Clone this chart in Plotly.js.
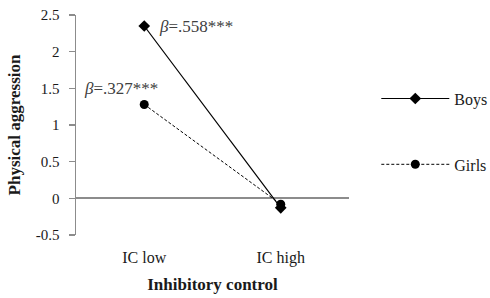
<!DOCTYPE html>
<html>
<head>
<meta charset="utf-8">
<script src="https://cdn.plot.ly/plotly-3.0.1.min.js"></script>
<style>html,body{margin:0;padding:0;background:#fff;}#chart{width:490px;height:298px;}</style>
</head>
<body>
<div id="chart"></div>
<script>
const categories = ["IC low", "IC high"];
const boys = [2.35, -0.13];
const girls = [1.28, -0.08];
const seriesNames = ["Boys", "Girls"];
const annoTexts = ["<i>β</i>=.558***", "<i>β</i>=.327***"];
const yTickVals = [-0.5, 0, 0.5, 1, 1.5, 2, 2.5];
const yTickText = ["-0.5", "0", "0.5", "1", "1.5", "2", "2.5"];

const FONT = "Liberation Serif";
const traces = [
  {x: categories, y: boys, name: seriesNames[0], type: "scatter", mode: "lines+markers",
   line: {color: "#000", width: 1.2}, marker: {symbol: "diamond", size: 9, color: "#000"}, legendgroup: "a"},
  {x: categories, y: girls, name: seriesNames[1], type: "scatter", mode: "lines+markers",
   line: {color: "#000", width: 1, dash: "3px,2px"}, marker: {symbol: "circle", size: 9, color: "#000"}, legendgroup: "b"}
];
const layout = {
  width: 490, height: 298,
  margin: {l: 76, r: 141, t: 15, b: 63, autoexpand: false},
  paper_bgcolor: "#fff", plot_bgcolor: "#fff",
  font: {family: FONT, size: 15, color: "#1a1a1a"},
  showlegend: true,
  legend: {x: 1.1, xanchor: "left", y: 0.47, yanchor: "middle", itemwidth: 68,
           tracegroupgap: 42, font: {family: FONT, size: 16, color: "#1a1a1a"}, bgcolor: "rgba(0,0,0,0)"},
  xaxis: {type: "category", range: [-0.5, 1.5], showgrid: false, showline: false, zeroline: false,
          ticks: "", tickfont: {family: FONT, size: 16}, ticklen: 0, ticklabelstandoff: 11,
          title: {text: "<b>Inhibitory control</b>", font: {family: FONT, size: 17}, standoff: 12}},
  yaxis: {range: [-0.5, 2.5], tickvals: yTickVals, ticktext: yTickText, showgrid: false, showline: true,
          linecolor: "#8c8c8c", linewidth: 1.5,
          ticks: "outside", ticklen: 6, tickcolor: "#8c8c8c", tickwidth: 1.5, ticklabelstandoff: 6,
          zeroline: true, zerolinecolor: "#8c8c8c", zerolinewidth: 2,
          tickfont: {family: FONT, size: 15},
          title: {text: "<b>Physical aggression</b>", font: {family: FONT, size: 17}, standoff: 11}},
  annotations: [
    {x: categories[0], y: boys[0], text: annoTexts[0], showarrow: false, xanchor: "left", xshift: 13, yshift: 0,
     font: {family: FONT, size: 17, color: "#404040"}},
    {x: categories[0], y: girls[0], text: annoTexts[1], showarrow: false, xanchor: "right", xshift: 16, yshift: 16,
     font: {family: FONT, size: 17, color: "#404040"}}
  ]
};
Plotly.newPlot("chart", traces, layout, {displayModeBar: false, staticPlot: true});
</script>
</body>
</html>
